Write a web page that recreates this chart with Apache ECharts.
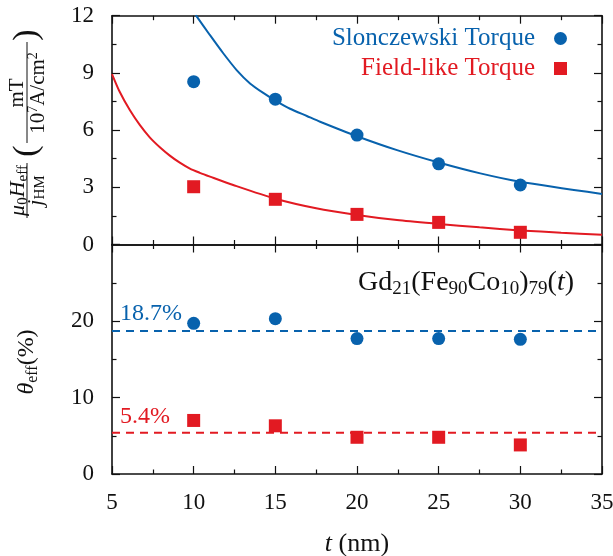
<!DOCTYPE html>
<html><head><meta charset="utf-8">
<script src="https://cdn.jsdelivr.net/npm/echarts@6/dist/echarts.min.js"></script>
<style>html,body{margin:0;padding:0;background:#fff}#c{width:613px;height:556px}</style>
</head><body><div id="c"></div>
<script>
// ---- data ----
const thickness = [10, 15, 20, 25, 30];
const slonczewskiField = [8.54, 7.62, 5.74, 4.23, 3.12];
const fieldLikeField = [3.03, 2.37, 1.58, 1.16, 0.64];
const slonczewskiFitT = [10.13, 10.99, 11.81, 12.63, 13.45, 14.26, 15, 15.9, 16.93, 17.74, 20, 22.45, 25, 27.55, 30, 35];
const slonczewskiFitV = [12.03, 10.99, 10.03, 9.15, 8.45, 7.95, 7.55, 7.12, 6.74, 6.44, 5.68, 4.95, 4.30, 3.73, 3.29, 2.65];
const fieldLikeFitT = [5, 5.47, 6.09, 6.70, 7.31, 7.93, 8.54, 9.15, 9.77, 10.38, 11, 12.42, 15, 17.5, 20, 22.45, 25, 27.5, 30, 32.5, 35];
const fieldLikeFitV = [8.94, 8.01, 7.05, 6.27, 5.62, 5.10, 4.66, 4.29, 3.98, 3.76, 3.56, 3.12, 2.40, 1.9, 1.55, 1.28, 1.08, 0.9, 0.74, 0.62, 0.51];
const slonczewskiTheta = [19.7, 20.3, 17.7, 17.7, 17.6];
const fieldLikeTheta = [7.0, 6.3, 4.8, 4.8, 3.8];
const slonczewskiMean = 18.7;
const fieldLikeMean = 5.4;
const tRange = [5, 35];
const fieldTicks = [0, 3, 6, 9, 12];
const thetaTicks = [0, 10, 20];
const seriesNames = ['Slonczewski Torque', 'Field-like Torque'];

const BLUE = '#0862ad', RED = '#e21a22', INK = '#111';
const FF = 'Liberation Serif';
const zip = (a, b) => a.map((v, i) => [v, b[i]]);

const chart = echarts.init(document.getElementById('c'));

const tickStyle = {color: INK, width: 1.2};
function xAx(grid, pos, labels) {
  return {
    type: 'value', gridIndex: grid, position: pos, min: tRange[0], max: tRange[1], interval: 5,
    axisLine: {show: true, onZero: false, lineStyle: {color: INK, width: 1.6}},
    axisTick: {show: true, inside: true, length: 8, lineStyle: tickStyle},
    minorTick: {show: true, splitNumber: 2, length: 4.5, lineStyle: tickStyle},
    splitLine: {show: false}, minorSplitLine: {show: false},
    axisLabel: {show: labels, fontFamily: FF, fontSize: 23, color: INK, margin: 17},
    name: labels ? '{i|t} (nm)' : '', nameLocation: 'middle', nameGap: 57,
    nameTextStyle: {fontFamily: FF, fontSize: 26, color: INK,
      rich: {i: {fontFamily: FF, fontSize: 26, fontStyle: 'italic', color: INK}}}
  };
}
function yAx(grid, pos, ticks, labels) {
  const step = ticks[1] - ticks[0];
  const maxV = grid === 0 ? ticks[ticks.length - 1] : 30;
  return {
    type: 'value', gridIndex: grid, position: pos, min: 0, max: maxV, interval: step,
    axisLine: {show: true, onZero: false, lineStyle: {color: INK, width: 1.6}},
    axisTick: {show: true, inside: true, length: 8, lineStyle: tickStyle},
    minorTick: {show: true, splitNumber: 2, length: 4.5, lineStyle: tickStyle},
    splitLine: {show: false}, minorSplitLine: {show: false},
    axisLabel: {show: labels, fontFamily: FF, fontSize: 23, color: INK, margin: 18,
      formatter: v => ticks.indexOf(v) >= 0 ? String(v) : ''}
  };
}

chart.setOption({
  animation: false,
  backgroundColor: '#fff',
  textStyle: {fontFamily: FF},
  grid: [
    {left: 112, right: 11, top: 15.7, height: 228.8, containLabel: false, outerBoundsMode: 'none'},
    {left: 112, right: 11, top: 244.5, height: 229.5, containLabel: false, outerBoundsMode: 'none'}
  ],
  xAxis: [xAx(0, 'bottom', false), xAx(0, 'top', false), xAx(1, 'bottom', true), xAx(1, 'top', false)],
  yAxis: [yAx(0, 'left', fieldTicks, true), yAx(0, 'right', fieldTicks, false),
          yAx(1, 'left', thetaTicks, true), yAx(1, 'right', thetaTicks, false)],
  legend: {
    orient: 'vertical', right: 41, top: 21, align: 'right', itemGap: 5,
    itemWidth: 13, itemHeight: 13,
    data: [
      {name: seriesNames[0], icon: 'circle', textStyle: {color: BLUE}},
      {name: seriesNames[1], icon: 'rect', textStyle: {color: RED}}
    ],
    textStyle: {fontFamily: FF, fontSize: 25, padding: [0, 14, 0, 0]}
  },
  series: [
    {type: 'line', name: 'S fit', xAxisIndex: 0, yAxisIndex: 0, data: zip(slonczewskiFitT, slonczewskiFitV),
     smooth: 0.25, showSymbol: false, lineStyle: {color: BLUE, width: 2}, clip: true, z: 2},
    {type: 'line', name: 'F fit', xAxisIndex: 0, yAxisIndex: 0, data: zip(fieldLikeFitT, fieldLikeFitV),
     smooth: 0.25, showSymbol: false, lineStyle: {color: RED, width: 2}, clip: true, z: 2},
    {type: 'scatter', name: seriesNames[0], xAxisIndex: 0, yAxisIndex: 0, data: zip(thickness, slonczewskiField),
     symbol: 'circle', symbolSize: 13, itemStyle: {color: BLUE, opacity: 1}, z: 3},
    {type: 'scatter', name: seriesNames[1], xAxisIndex: 0, yAxisIndex: 0, data: zip(thickness, fieldLikeField),
     symbol: 'rect', symbolSize: 13, itemStyle: {color: RED, opacity: 1}, z: 3},
    {type: 'line', name: 'S mean', xAxisIndex: 2, yAxisIndex: 2, data: tRange.map(t => [t, slonczewskiMean]),
     showSymbol: false, lineStyle: {color: BLUE, width: 2, type: [8, 6]}, z: 2},
    {type: 'line', name: 'F mean', xAxisIndex: 2, yAxisIndex: 2, data: tRange.map(t => [t, fieldLikeMean]),
     showSymbol: false, lineStyle: {color: RED, width: 2, type: [8, 6]}, z: 2},
    {type: 'scatter', name: 'S theta', xAxisIndex: 2, yAxisIndex: 2, data: zip(thickness, slonczewskiTheta),
     symbol: 'circle', symbolSize: 13, itemStyle: {color: BLUE, opacity: 1}, z: 3},
    {type: 'scatter', name: 'F theta', xAxisIndex: 2, yAxisIndex: 2, data: zip(thickness, fieldLikeTheta),
     symbol: 'rect', symbolSize: 13, itemStyle: {color: RED, opacity: 1}, z: 3}
  ]
});

const pS = chart.convertToPixel({xAxisIndex: 2, yAxisIndex: 2}, [tRange[0], slonczewskiMean]);
const pF = chart.convertToPixel({xAxisIndex: 2, yAxisIndex: 2}, [tRange[0], fieldLikeMean]);

const txt = (size) => ({fontFamily: FF, fontSize: size, fill: INK});
const richSet = {
  i: {fontFamily: FF, fontSize: 22, fontStyle: 'italic', fill: INK},
  s: {fontFamily: FF, fontSize: 15, fill: INK, verticalAlign: 'bottom', lineHeight: 13},
  p: {fontFamily: FF, fontSize: 14, fill: INK, verticalAlign: 'top', lineHeight: 12}
};

chart.setOption({
  graphic: [
    // top y title (rotated)
    {type: 'group', x: 27, y: 218, rotation: Math.PI / 2, children: [
      {type: 'text', x: 27.5, y: -9, style: Object.assign(txt(22), {text: '{i|μ}{s|0}{i|H}{s|eff}', rich: richSet, lineHeight: 26, align: 'center', verticalAlign: 'middle'})},
      {type: 'line', shape: {x1: 0, y1: 0, x2: 55, y2: 0}, style: {stroke: INK, lineWidth: 1}},
      {type: 'text', x: 27.5, y: 9, style: Object.assign(txt(22), {text: '{i|j}{s|HM}', rich: richSet, lineHeight: 24, align: 'center', verticalAlign: 'middle'})},
      {type: 'text', x: 67, y: 0, style: Object.assign(txt(34), {text: '(', align: 'center', verticalAlign: 'middle'})},
      {type: 'text', x: 125, y: -10, style: Object.assign(txt(21), {text: 'mT', align: 'center', verticalAlign: 'middle'})},
      {type: 'line', shape: {x1: 75, y1: 0, x2: 176, y2: 0}, style: {stroke: INK, lineWidth: 1}},
      {type: 'text', x: 125, y: 11, style: Object.assign(txt(21), {text: '10{p|7}A/cm{p|2}', rich: richSet, lineHeight: 24, align: 'center', verticalAlign: 'middle'})},
      {type: 'text', x: 183, y: 0, style: Object.assign(txt(34), {text: ')', align: 'center', verticalAlign: 'middle'})}
    ]},
    // bottom y title
    {type: 'text', x: 27, y: 362, rotation: Math.PI / 2,
     style: Object.assign(txt(24), {text: '{i|θ}{s|eff}(%)', lineHeight: 28, align: 'center', verticalAlign: 'middle',
       rich: {i: {fontFamily: FF, fontSize: 24, fontStyle: 'italic', fill: INK}, s: {fontFamily: FF, fontSize: 16, fill: INK, verticalAlign: 'bottom', lineHeight: 14}}})},
    // sample label
    {type: 'text', x: 574, y: 283,
     style: Object.assign(txt(28), {text: 'Gd{s|21}(Fe{s|90}Co{s|10}){s|79}({i|t})', lineHeight: 32, align: 'right', verticalAlign: 'middle',
       rich: {i: {fontFamily: FF, fontSize: 28, fontStyle: 'italic', fill: INK}, s: {fontFamily: FF, fontSize: 19, fill: INK, verticalAlign: 'bottom', lineHeight: 17}}})},
    // mean labels
    {type: 'text', x: pS[0] + 8, y: pS[1] - 17, style: {text: slonczewskiMean + '%', fontFamily: FF, fontSize: 24, fill: BLUE, align: 'left', verticalAlign: 'middle'}},
    {type: 'text', x: pF[0] + 8, y: pF[1] - 16, style: {text: fieldLikeMean + '%', fontFamily: FF, fontSize: 24, fill: RED, align: 'left', verticalAlign: 'middle'}}
  ]
});
</script>
</body></html>
